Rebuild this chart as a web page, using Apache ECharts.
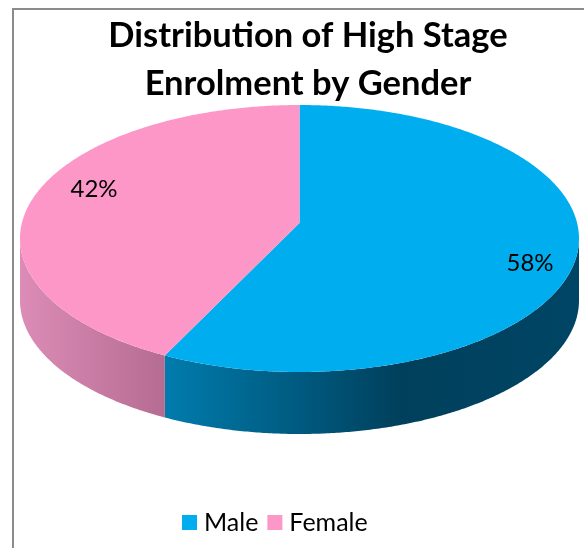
<!DOCTYPE html>
<html>
<head>
<meta charset="utf-8">
<title>Distribution of High Stage Enrolment by Gender</title>
<script src="https://cdn.jsdelivr.net/npm/echarts@6/dist/echarts.min.js"></script>
<style>
    html, body { margin: 0; padding: 0; background: #fff; }
    #chart { width: 584px; height: 548px; }
</style>
</head>
<body>
<div id="chart"></div>
<script>
const categories = ["Male", "Female"];
const shares = [58, 42];

const colors = ["#00AEEF", "#FC97C8"];
const sideStops = [
    [[0, "#007CAD"], [0.57, "#00405C"], [1, "#004565"]],
    [[0, "#DC8CB6"], [1, "#B56C92"]],
];
const labelAt = [[530, 263], [94, 189]];

// 椭圆饼的几何参数
const pie = { cx: 299.5, cy: 238.5, rx: 279.5, ry: 133.5, apexY: 223, depth: 62 };
const total = shares.reduce((a, b) => a + b, 0);

function rimPoint(deg, drop) {
    const rad = deg * Math.PI / 180;
    return [pie.cx + pie.rx * Math.sin(rad), pie.cy - pie.ry * Math.cos(rad) + drop];
}

function arcPoints(from, to, drop) {
    const pts = [];
    const n = Math.max(2, Math.ceil(Math.abs(to - from) * 2));
    for (let i = 0; i <= n; i++) pts.push(rimPoint(from + (to - from) * i / n, drop));
    return pts;
}

function sliceSeries(name, idx) {
    const before = shares.slice(0, idx).reduce((a, b) => a + b, 0);
    const start = before / total * 360;
    const end = (before + shares[idx]) / total * 360;
    return {
        type: "custom",
        name: name,
        coordinateSystem: "none",
        silent: true,
        animation: false,
        itemStyle: { color: colors[idx] },
        data: [shares[idx]],
        renderItem: () => {
            const children = [];
            // 侧面只画朝前的下半圈
            const a = Math.max(start, 90), b = Math.min(end, 270);
            if (b > a) {
                const side = arcPoints(a, b, 0).concat(arcPoints(b, a, pie.depth));
                children.push({
                    type: "polygon",
                    shape: { points: side },
                    style: {
                        fill: {
                            type: "linear", x: 0, y: 0, x2: 1, y2: 0,
                            colorStops: sideStops[idx].map(([offset, color]) => ({ offset, color })),
                        },
                    },
                });
            }
            children.push({
                type: "polygon",
                shape: { points: [[pie.cx, pie.apexY]].concat(arcPoints(start, end, 0)) },
                style: { fill: colors[idx] },
            });
            children.push({
                type: "text",
                style: {
                    text: shares[idx] + "%",
                    x: labelAt[idx][0], y: labelAt[idx][1],
                    align: "center", verticalAlign: "middle",
                    fill: "#000", font: "24px Lato",
                },
            });
            return { type: "group", children: children };
        },
    };
}

const chart = echarts.init(document.getElementById("chart"), null, { renderer: "canvas" });
chart.setOption({
    backgroundColor: "#fff",
    animation: false,
    title: {
        text: "Distribution of High Stage\nEnrolment by Gender",
        left: 303, top: 7, textAlign: "center",
        textStyle: { fontFamily: "Lato", fontSize: 34.5, fontWeight: "bold", color: "#000", lineHeight: 48 },
    },
    legend: {
        data: categories,
        left: 177, top: 505,
        icon: "rect", itemWidth: 15, itemHeight: 15, itemGap: 9,
        textStyle: { fontFamily: "Lato", fontSize: 25, color: "#000", padding: [0, 0, 0, 2] },
    },
    graphic: [{
        type: "polyline",
        shape: { points: [[13, 548], [13, 9], [584, 9]] },
        style: { stroke: "#8C8C8C", lineWidth: 2, fill: null },
        silent: true,
    }],
    series: categories.map(sliceSeries),
});
</script>
</body>
</html>
